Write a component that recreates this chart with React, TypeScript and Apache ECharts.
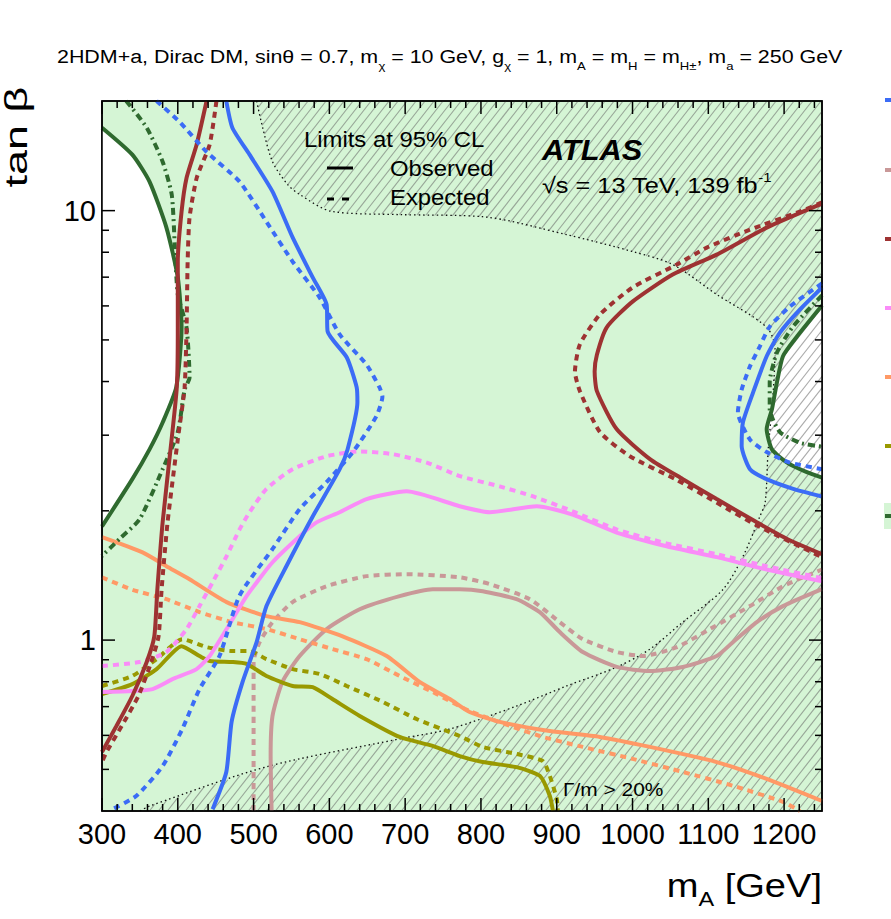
import { useEffect, useRef } from 'react';
import * as echarts from 'echarts';

const FONT = '"Liberation Sans", Arial, Helvetica, sans-serif';

const X_MIN = 300;
const X_MAX = 1250;
const Y_MIN = 0.4;
const Y_MAX = 18;

const xMajorTicks = [300, 400, 500, 600, 700, 800, 900, 1000, 1100, 1200];
const xMinorTicks = [320, 340, 360, 380, 420, 440, 460, 480, 520, 540, 560, 580, 620, 640, 660, 680, 720, 740, 760, 780,
  820, 840, 860, 880, 920, 940, 960, 980, 1020, 1040, 1060, 1080, 1120, 1140, 1160, 1180, 1220, 1240];
const yMajorTicks = [1, 10];
const yMinorTicks = [0.5, 0.6, 0.7, 0.8, 0.9, 2, 3, 4, 5, 6, 7, 8, 9];

// curves: [mA (GeV), tan beta]
const blueObsLeft = [[464, 18], [472, 15.6], [494.7, 13.5], [525, 11.07], [551.5, 8.66], [578, 6.99], [596.4, 6.04], [597.7, 5.23], [623, 4.55], [636, 3.88], [637, 3.58], [624, 2.78], [613.6, 2.5], [578, 1.94], [543.6, 1.49], [517, 1.2], [504, 0.989], [485.5, 0.799], [471, 0.645], [464, 0.493], [446, 0.404]];
const blueExpLeft = [[372, 18], [402.3, 16.1], [438, 13.7], [481.5, 11.68], [517, 9.42], [551.5, 7.61], [587, 6.28], [613.6, 5.15], [649, 4.38], [666, 3.88], [670, 3.69], [662, 3.32], [631, 2.74], [596, 2.33], [561, 2.02], [525, 1.63], [481.5, 1.27], [455, 0.918], [428.7, 0.769], [406, 0.621], [380, 0.509], [345.5, 0.434], [314, 0.404]];
const blueObsRight = [[1250, 6.62], [1221, 5.89], [1194.5, 5.2], [1177, 4.58], [1159, 3.77], [1145.6, 3.21], [1144, 2.83], [1155, 2.5], [1177, 2.37], [1212, 2.25], [1250, 2.16]];
const blueExpRight = [[1250, 6.77], [1207.7, 5.98], [1181, 5.37], [1168, 4.83], [1155, 4.34], [1144, 3.83], [1139, 3.39], [1155, 2.93], [1177, 2.74], [1207.7, 2.59], [1250, 2.5]];

const redObsLeft = [[438, 18], [424.8, 14.24], [411.6, 11.93], [405, 9.95], [400, 7.61], [400, 5.35], [398.7, 3.88], [391.8, 2.93], [380, 1.88], [373, 1.31], [369, 1.02], [359, 0.889], [340, 0.741], [319, 0.631], [300, 0.549]];
const redExpLeft = [[451, 18], [442, 14.24], [425, 11.93], [415.5, 9.63], [413, 7.61], [411.6, 5.35], [409, 3.88], [400, 2.93], [386.5, 1.88], [378.6, 1.31], [374.6, 1.02], [365, 0.889], [348, 0.741], [326, 0.631], [306, 0.549], [300, 0.52]];
const redObsRight = [[1250, 10.38], [1177, 9.13], [1111, 7.9], [1053, 7.1], [1000, 6.14], [966, 5.35], [953, 4.62], [950, 4.22], [953, 3.8], [979, 3.1], [1023, 2.64], [1066.5, 2.37], [1111, 2.13], [1164, 1.88], [1204, 1.72], [1250, 1.585]];
const redExpRight = [[1250, 10.45], [1221, 9.95], [1155, 9.03], [1098, 8.2], [1058.5, 7.49], [1000, 6.62], [957, 5.73], [930.5, 4.88], [924, 4.22], [930.5, 3.8], [957, 3.05], [996.5, 2.68], [1058.5, 2.36], [1111, 2.09], [1164, 1.85], [1250, 1.56]];

const pinkObs = [[300, 0.757], [340, 0.761], [366.7, 0.769], [393, 0.811], [424.8, 0.856], [442, 0.918], [464.4, 1.061], [490.8, 1.266], [525, 1.518], [560.8, 1.746], [583, 1.88], [613.6, 1.985], [649, 2.13], [702, 2.22], [772, 2.05], [811.7, 1.985], [873.6, 2.05], [921, 1.96], [979, 1.78], [1045, 1.654], [1111, 1.56], [1177, 1.46], [1250, 1.37]];
const pinkExp = [[300, 0.87], [349.5, 0.889], [385, 0.938], [411.6, 1.061], [428.7, 1.2], [446, 1.364], [464.4, 1.568], [481.5, 1.81], [494.7, 1.985], [517, 2.25], [551.5, 2.5], [596.4, 2.68], [640, 2.75], [683.6, 2.71], [728.5, 2.59], [772, 2.41], [824.7, 2.28], [869, 2.16], [921, 1.995], [979, 1.81], [1045, 1.68], [1111, 1.585], [1177, 1.486], [1250, 1.394]];

const orangeObs = [[300, 1.736], [353.5, 1.6], [385, 1.486], [415.5, 1.386], [464.4, 1.226], [517, 1.137], [560.8, 1.101], [617.5, 1.02], [675.6, 0.918], [719, 0.799], [759, 0.729], [785, 0.68], [824.7, 0.645], [890.8, 0.614], [956.8, 0.595], [1023, 0.564], [1111, 0.52], [1177, 0.475], [1250, 0.422]];
const orangeExp = [[300, 1.4], [340, 1.31], [385, 1.245], [428.7, 1.162], [472, 1.101], [517, 1.061], [560.8, 1.005], [604, 0.953], [649, 0.903], [692.7, 0.825], [736.3, 0.757], [785, 0.684], [877.6, 0.598], [934.4, 0.564], [1000, 0.529], [1066.5, 0.493], [1132.5, 0.458], [1198.5, 0.42], [1221, 0.4]];

const oliveObs = [[300, 0.749], [340, 0.79], [372, 0.856], [405, 0.968], [428.7, 0.918], [442, 0.894], [472, 0.889], [490.8, 0.88], [517, 0.825], [551.5, 0.782], [578, 0.777], [604, 0.729], [640, 0.666], [692.7, 0.595], [736.3, 0.567], [772, 0.537], [802.4, 0.52], [847, 0.506], [877.6, 0.483], [890.8, 0.434], [895, 0.4]];
const oliveExp = [[300, 0.782], [340, 0.825], [372, 0.903], [406, 1.005], [438, 0.963], [472, 0.943], [494.7, 0.943], [517, 0.903], [551.5, 0.856], [587, 0.834], [623, 0.782], [670.6, 0.718], [715, 0.655], [772, 0.598], [802.4, 0.564], [847, 0.543], [881.5, 0.523], [890.8, 0.483], [900, 0.427], [901.5, 0.4]];

const rosyObs = [[523.8, 0.4], [522.5, 0.537], [525, 0.666], [538, 0.799], [560.8, 0.918], [596.4, 1.061], [640, 1.18], [692.7, 1.266], [736.3, 1.314], [772, 1.314], [802.4, 1.3], [847, 1.245], [877.6, 1.162], [904, 1.044], [934.4, 0.938], [979.3, 0.866], [1023, 0.847], [1066.5, 0.866], [1111, 0.918], [1132.5, 0.989], [1164, 1.101], [1198.5, 1.2], [1250, 1.314]];
const rosyExp = [[500, 0.4], [500, 0.889], [508, 0.989], [525, 1.101], [551.5, 1.226], [596.4, 1.335], [649, 1.409], [702, 1.424], [772, 1.4], [811.7, 1.35], [864.5, 1.245], [904, 1.101], [934.4, 1.005], [979.3, 0.938], [1013.6, 0.918], [1058.5, 0.963], [1102, 1.061], [1155, 1.2], [1198.5, 1.335], [1250, 1.46]];

const greenObsLeft = [[300, 15.6], [340, 13.5], [362.7, 11.68], [385, 9.13], [400, 6.99], [405, 5.35], [398, 3.88], [380, 3.21], [362.7, 2.78], [340, 2.37], [300, 1.84]];
const greenExpLeft = [[332, 18], [359, 15.6], [380, 13.0], [392, 10.9], [396, 8.34], [400, 6.38], [411.5, 5.35], [415.5, 4.09], [409, 3.83], [400, 3.05], [380, 2.5], [349.5, 1.91], [323, 1.72], [300, 1.57]];
const greenObsRight = [[1250, 6.01], [1217, 5.09], [1198.5, 4.58], [1190.5, 3.98], [1184, 3.45], [1177, 3.1], [1184, 2.78], [1204, 2.59], [1230, 2.46], [1250, 2.39]];
const greenExpRight = [[1250, 6.35], [1211.7, 5.37], [1190.5, 4.67], [1181, 3.98], [1181, 3.45], [1194.5, 3.05], [1221, 2.88], [1250, 2.82]];

// Gamma/m > 20% contour (dotted)
const widthContour = [[504, 18], [512, 15.6], [525, 13], [545, 11.5], [561, 10.9], [604, 9.95], [693, 9.79], [802, 9.68], [913, 8.79], [1000, 8.03], [1053, 7.49], [1111, 6.38], [1177, 5.35], [1188, 4.75], [1185, 3.64], [1179, 2.78], [1175, 2.09], [1168, 1.94], [1146, 1.57], [1119, 1.31], [1066, 1.1], [1023, 0.953], [979, 0.865], [913, 0.782], [847, 0.702], [759, 0.621], [693, 0.589], [517, 0.507], [363, 0.411], [350, 0.4]];

const COLORS = {
  blue: '#3b6cf6',
  rosy: '#c99898',
  red: '#9e3232',
  pink: '#fa8cf8',
  orange: '#ff9966',
  olive: '#999900',
  green: '#2f6a2f',
  fill: '#d5f5d5',
};

const legendStubColors = [COLORS.blue, COLORS.rosy, COLORS.red, COLORS.pink, COLORS.orange, COLORS.olive, COLORS.green];
const legendStubY = [100, 170, 239, 308, 377, 446, 516];

const titleText = '2HDM+a, Dirac DM, sinθ = 0.7, m{s|χ} = 10 GeV, g{s|χ} = 1, m{s|A} = m{s|H} = m{s|H±}, m{s|a} = 250 GeV';

function hatchSegments(pts: number[][], angleDeg: number, hSpacing: number) {
  const th = (angleDeg * Math.PI) / 180;
  const nx = Math.sin(th);
  const ny = Math.cos(th);
  const step = hSpacing * nx;
  const proj = pts.map((p) => p[0] * nx + p[1] * ny);
  const cmin = Math.min(...proj);
  const cmax = Math.max(...proj);
  const segs: number[][][] = [];
  for (let c = Math.ceil(cmin / step) * step; c <= cmax; c += step) {
    const xs: number[][] = [];
    for (let i = 0; i < pts.length; i++) {
      const j = (i + 1) % pts.length;
      const a = proj[i] - c;
      const b = proj[j] - c;
      if ((a < 0) !== (b < 0)) {
        const t = a / (a - b);
        xs.push([pts[i][0] + t * (pts[j][0] - pts[i][0]), pts[i][1] + t * (pts[j][1] - pts[i][1])]);
      }
    }
    xs.sort((p, q) => p[0] - q[0]);
    for (let k = 0; k + 1 < xs.length; k += 2) segs.push([xs[k], xs[k + 1]]);
  }
  return segs;
}

function lineSeries(data: number[][], color: string, dash: any, width = 4) {
  return {
    type: 'line',
    data,
    showSymbol: false,
    symbol: 'none',
    smooth: 0.2,
    silent: true,
    z: 5,
    lineStyle: { color, width, type: dash || 'solid', cap: 'butt' },
  };
}

function polySeries(pts: number[][], fill: string, z: number) {
  return {
    type: 'custom',
    coordinateSystem: 'cartesian2d',
    data: [[700, 1]],
    z,
    silent: true,
    renderItem: (_p: any, api: any) => ({
      type: 'polygon',
      shape: { points: pts.map((p) => api.coord(p)) },
      style: { fill, stroke: 'none' },
    }),
  };
}

export default function App() {
  const ref = useRef<HTMLDivElement>(null);
  useEffect(() => {
    const chart = echarts.init(ref.current!, null, { renderer: 'svg' });
    const DASH = [6, 5];
    const option: any = {
      animation: false,
      backgroundColor: '#ffffff',
      grid: {
        left: 102,
        right: 69,
        top: 101,
        bottom: 108,
        show: true,
        backgroundColor: COLORS.fill,
        borderColor: '#000',
        borderWidth: 1.5,
        outerBoundsMode: 'none',
        containLabel: false,
      },
      xAxis: {
        type: 'value',
        min: X_MIN,
        max: X_MAX,
        interval: 100,
        axisLine: { show: false },
        axisTick: { show: false },
        splitLine: { show: false },
        axisLabel: {
          margin: 8,
          fontSize: 29,
          fontFamily: FONT,
          color: '#000',
          formatter: (v: number) => (v % 100 === 0 && v <= 1200 ? String(v) : ''),
        },
      },
      yAxis: {
        type: 'log',
        logBase: 10,
        min: Y_MIN,
        max: Y_MAX,
        axisLine: { show: false },
        axisTick: { show: false },
        splitLine: { show: false },
        minorTick: { show: false },
        axisLabel: {
          margin: 6,
          fontSize: 29,
          fontFamily: FONT,
          color: '#000',
          formatter: (v: number) => (Math.abs(v - 1) < 1e-6 ? '1' : Math.abs(v - 10) < 1e-5 ? '10' : ''),
        },
      },
      series: [
        polySeries(greenObsLeft, '#ffffff', 1),
        polySeries(greenObsRight, '#ffffff', 1),
        {
          type: 'custom',
          coordinateSystem: 'cartesian2d',
          data: [[700, 1]],
          z: 2,
          silent: true,
          renderItem: (_p: any, api: any) => {
            const region = widthContour.concat([[X_MAX, Y_MIN], [X_MAX, Y_MAX]]);
            const px = region.map((p) => api.coord(p));
            const segs = hatchSegments(px, 52, 9);
            return {
              type: 'group',
              children: segs.map(([a, b]) => ({
                type: 'line',
                shape: { x1: a[0], y1: a[1], x2: b[0], y2: b[1] },
                style: { stroke: 'rgba(100,100,100,0.55)', lineWidth: 1.1 },
              })),
            };
          },
        },
        {
          type: 'line',
          data: widthContour,
          showSymbol: false,
          symbol: 'none',
          smooth: 0.3,
          silent: true,
          z: 3,
          lineStyle: { color: '#111', width: 1.3, type: [1.5, 3] },
        },
        lineSeries(rosyExp, COLORS.rosy, DASH),
        lineSeries(rosyObs, COLORS.rosy, null),
        lineSeries(oliveExp, COLORS.olive, DASH),
        lineSeries(oliveObs, COLORS.olive, null),
        lineSeries(orangeExp, COLORS.orange, DASH),
        lineSeries(orangeObs, COLORS.orange, null),
        lineSeries(pinkExp, COLORS.pink, DASH),
        lineSeries(pinkObs, COLORS.pink, null),
        lineSeries(greenExpLeft, COLORS.green, [7, 4, 2, 4]),
        lineSeries(greenExpRight, COLORS.green, [7, 4, 2, 4]),
        lineSeries(greenObsLeft, COLORS.green, null),
        lineSeries(greenObsRight, COLORS.green, null),
        lineSeries(redExpLeft, COLORS.red, DASH),
        lineSeries(redExpRight, COLORS.red, DASH),
        lineSeries(redObsLeft, COLORS.red, null),
        lineSeries(redObsRight, COLORS.red, null),
        lineSeries(blueExpLeft, COLORS.blue, DASH),
        lineSeries(blueExpRight, COLORS.blue, DASH),
        lineSeries(blueObsLeft, COLORS.blue, null),
        lineSeries(blueObsRight, COLORS.blue, null),
        {
          type: 'custom',
          coordinateSystem: 'cartesian2d',
          data: [[700, 1]],
          z: 20,
          silent: true,
          renderItem: (params: any, api: any) => {
            const cs = params.coordSys;
            const top = cs.y;
            const bottom = cs.y + cs.height;
            const left = cs.x;
            const right = cs.x + cs.width;
            const children: any[] = [];
            const ln = (x1: number, y1: number, x2: number, y2: number) =>
              children.push({ type: 'line', shape: { x1, y1, x2, y2 }, style: { stroke: '#000', lineWidth: 1.5 } });
            xMajorTicks.forEach((v) => {
              const x = api.coord([v, 1])[0];
              ln(x, bottom, x, bottom - 13);
              ln(x, top, x, top + 13);
            });
            xMinorTicks.forEach((v) => {
              const x = api.coord([v, 1])[0];
              ln(x, bottom, x, bottom - 7);
              ln(x, top, x, top + 7);
            });
            yMajorTicks.forEach((v) => {
              const y = api.coord([700, v])[1];
              ln(left, y, left + 13, y);
              ln(right, y, right - 13, y);
            });
            yMinorTicks.forEach((v) => {
              const y = api.coord([700, v])[1];
              ln(left, y, left + 7, y);
              ln(right, y, right - 7, y);
            });
            children.push({
              type: 'rect',
              shape: { x: left, y: top, width: cs.width, height: cs.height },
              style: { fill: 'none', stroke: '#000', lineWidth: 1.5 },
            });
            return { type: 'group', children };
          },
        },
      ],
      graphic: [
        {
          type: 'text',
          x: 57,
          y: 57,
          z: 100,
          scaleX: 1.19,
          style: {
            text: titleText,
            fontSize: 18,
            fontFamily: FONT,
            fill: '#000',
            textVerticalAlign: 'middle',
            lineHeight: 30,
            rich: {
              s: { fontSize: 11, fontFamily: FONT, lineHeight: 30, verticalAlign: 'bottom', fill: '#000' },
            },
          },
        },
        {
          type: 'text',
          x: 16,
          y: 137,
          rotation: Math.PI / 2,
          scaleX: 1.45,
          z: 100,
          style: { text: 'tan β', fontSize: 31, fontFamily: FONT, fill: '#000', textAlign: 'center', textVerticalAlign: 'middle' },
        },
        {
          type: 'text',
          x: 822,
          y: 885,
          z: 100,
          scaleX: 1.12,
          style: {
            text: '{m|m}{a|A}{m| [GeV]}',
            textAlign: 'right',
            textVerticalAlign: 'middle',
            fill: '#000',
            rich: {
              m: { fontSize: 34, fontFamily: FONT, lineHeight: 48, fill: '#000' },
              a: { fontSize: 21, fontFamily: FONT, lineHeight: 48, verticalAlign: 'bottom', fill: '#000' },
            },
          },
        },
        {
          type: 'text',
          x: 304,
          y: 139,
          z: 100,
          scaleX: 1.085,
          style: { text: 'Limits at 95% CL', fontSize: 22, fontFamily: FONT, fill: '#000', textVerticalAlign: 'middle' },
        },
        { type: 'line', z: 100, shape: { x1: 327, y1: 168, x2: 353, y2: 168 }, style: { stroke: '#000', lineWidth: 3 } },
        {
          type: 'text',
          x: 390,
          y: 168,
          z: 100,
          scaleX: 1.085,
          style: { text: 'Observed', fontSize: 22, fontFamily: FONT, fill: '#000', textVerticalAlign: 'middle' },
        },
        { type: 'line', z: 100, shape: { x1: 327, y1: 199, x2: 351, y2: 199 }, style: { stroke: '#000', lineWidth: 3, lineDash: [7, 8] } },
        {
          type: 'text',
          x: 390,
          y: 197,
          z: 100,
          scaleX: 1.085,
          style: { text: 'Expected', fontSize: 22, fontFamily: FONT, fill: '#000', textVerticalAlign: 'middle' },
        },
        {
          type: 'text',
          x: 542,
          y: 150,
          z: 100,
          scaleX: 1.06,
          style: { text: 'ATLAS', fontSize: 29, fontWeight: 'bold', fontStyle: 'italic', fontFamily: FONT, fill: '#000', textVerticalAlign: 'middle' },
        },
        {
          type: 'text',
          x: 542,
          y: 186,
          z: 100,
          scaleX: 1.15,
          style: {
            text: '√s = 13 TeV, 139 fb{p|-1}',
            fontSize: 22,
            fontFamily: FONT,
            fill: '#000',
            textVerticalAlign: 'middle',
            lineHeight: 30,
            rich: { p: { fontSize: 13, fontFamily: FONT, lineHeight: 30, verticalAlign: 'top', fill: '#000' } },
          },
        },
        {
          type: 'text',
          x: 563,
          y: 789,
          z: 100,
          scaleX: 1.1,
          style: { text: 'Γ/m > 20%', fontSize: 19, fontFamily: FONT, fill: '#000', textVerticalAlign: 'middle' },
        },
        { type: 'rect', z: 90, shape: { x: 884, y: 503, width: 7, height: 26 }, style: { fill: COLORS.fill } },
        ...legendStubColors.map((c, i) => ({
          type: 'rect',
          z: 100,
          shape: { x: 885, y: legendStubY[i] - 2, width: 6, height: 4 },
          style: { fill: c },
        })),
      ],
    };
    chart.setOption(option);
    return () => chart.dispose();
  }, []);
  return <div ref={ref} style={{ position: 'fixed', left: 0, top: 0, width: 891, height: 919, background: '#fff' }} />;
}
